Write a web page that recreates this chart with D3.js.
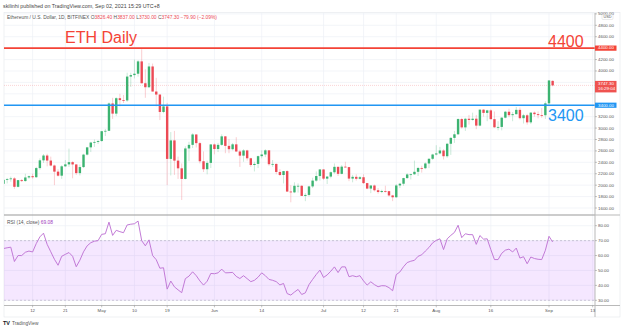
<!DOCTYPE html>
<html><head><meta charset="utf-8">
<script src="https://cdn.jsdelivr.net/npm/d3@7"></script>
<style>body{margin:0;background:#fff}svg{display:block;font-family:"Liberation Sans",Arial,sans-serif}</style>
</head><body><svg id="c" width="624" height="331"></svg>
<script>
// ---------- DATA ----------
const firstDay = "2021-04-04", lastDay = "2021-09-02";
const open = [2024,2093,2107,2118,1971,2088,2072,2135,2157,2139,2299,2435,2519,2431,2344,2237,2166,2330,2364,2403,2363,2211,2317,2535,2662,2746,2757,
2773,2945,2952,3431,3253,3523,3490,3484,3902,3928,3952,4168,3785,3715,4079,3640,3587,3282,3380,2460,2784,2430,2295,2109,2643,2706,2888,2736,2419,2279,2390,
2713,2633,2706,2855,2688,2630,2715,2590,2517,2608,2471,2353,2372,2508,2537,2610,2367,2372,2231,2178,2246,1888,1874,1989,1989,1812,1829,1978,2080,2160,
2275,2114,2150,2226,2321,2198,2324,2316,2115,2146,2111,2139,2036,1940,1994,1911,1880,1898,1895,1820,1788,1995,2025,2124,2188,2191,2234,2301,2297,2380,2462,
2537,2556,2607,2507,2725,2828,2891,3158,3012,3163,3142,3164,3043,3322,3266,3310,3156,3014,3020,3182,3286,3226,3243,3319,3173,3224,3100,3270,3244,3227,3225,
3433,3826.4];
const high = [2100,2127,2150,2140,2090,2105,2200,2170,2200,2320,2470,2545,2550,2500,2360,2280,2350,2440,2640,2420,2370,2360,2550,2670,2760,2800,2790,
2950,2985,3450,3530,3540,3600,3580,3970,3970,4200,4190,4380,4030,4140,4130,3880,3590,3550,3440,2930,2950,2500,2380,2680,2760,2910,2890,2760,2590,2430,2720,
2730,2740,2890,2860,2810,2740,2840,2620,2630,2620,2480,2410,2520,2610,2630,2610,2440,2380,2280,2250,2260,2000,2050,2030,2000,1860,1990,2130,2240,2280,
2280,2160,2240,2380,2325,2350,2410,2320,2180,2190,2160,2190,2040,2000,2010,1950,1920,1990,1900,1830,2020,2040,2130,2210,2200,2430,2320,2340,2400,2470,2550,
2700,2670,2630,2740,2840,2950,3170,3180,3180,3230,3270,3230,3330,3330,3320,3330,3290,3120,3190,3300,3340,3280,3370,3360,3250,3250,3280,3290,3290,3350,3470,
3840,3837];
const low = [1990,2030,2060,1935,1960,2055,2060,2110,2115,2130,2270,2390,2330,2330,2000,2150,2110,2320,2320,2120,2180,2170,2300,2520,2580,2670,2720,
2760,2860,2950,3160,3210,3380,3440,3460,3720,3870,3900,3780,3530,3700,3640,3380,3140,3260,2000,2170,2180,2110,1740,2100,2420,2650,2660,2380,2230,2190,2300,
2540,2580,2690,2560,2560,2610,2580,2320,2410,2430,2320,2240,2300,2470,2490,2340,2320,2190,2160,2030,1880,1700,1860,1870,1810,1720,1800,1950,2060,2080,
2090,2020,2120,2200,2160,2190,2310,2070,2050,2080,2100,2020,1930,1860,1890,1850,1860,1870,1800,1720,1780,1950,1990,2110,2100,2180,2160,2220,2280,2300,2440,
2520,2540,2450,2480,2530,2740,2880,2990,2950,3060,3130,2980,3030,3200,3120,3150,3000,2960,2960,3170,3190,3120,3240,3150,3080,3060,3070,3200,3170,3180,3160,
3390,3730];
const close = [2093,2107,2118,1971,2088,2072,2135,2157,2139,2299,2435,2519,2431,2344,2237,2166,2330,2364,2403,2363,2211,2317,2535,2662,2746,2757,2773,
2945,2952,3431,3253,3523,3490,3484,3902,3928,3952,4168,3785,3715,4079,3640,3587,3282,3380,2460,2784,2430,2295,2109,2643,2706,2888,2736,2419,2279,2390,2713,
2633,2706,2855,2688,2630,2715,2590,2517,2608,2471,2353,2372,2508,2537,2610,2367,2372,2231,2178,2246,1888,1874,1989,1989,1812,1829,1978,2080,2160,2275,
2114,2150,2226,2321,2198,2324,2316,2115,2146,2111,2139,2036,1940,1994,1911,1880,1898,1895,1820,1788,1995,2025,2124,2188,2191,2234,2301,2297,2380,2462,2537,
2556,2607,2507,2725,2828,2891,3158,3012,3163,3142,3164,3043,3322,3266,3310,3156,3014,3020,3182,3286,3226,3243,3319,3173,3224,3100,3270,3244,3227,3225,3433,
3834,3747.3];
const rsi = [64.7,65.2,65.6,56,60,60,62.2,63,62.4,68,72.5,75,67.5,62.5,57.5,53.5,59.5,60.8,62,59.5,52.5,56.9,62.5,66.5,68.6,69.6,70,
74.2,74.6,82.4,73.5,76.9,76,75.3,80.5,81,81.3,83.1,70,66.5,70.5,60,57.2,51.5,51.8,37.5,42.9,39,37,35.1,44.5,46.2,49.1,46.5,43,40.2,42.8,48,
47.8,48.4,50.9,48.4,48.5,48.7,46,44.6,46.5,44.5,42.5,43.4,45.5,48.4,46.5,44,43.4,42.5,40.3,41.3,34.5,33.5,35.5,37.3,33.9,35,40.5,44,47.3,50.2,
45.3,47,49.5,52.4,48.6,52.4,52.4,45.8,46.5,45.8,46.5,43,40.2,42.4,40.5,39.1,39.8,39.7,38.5,36.4,47.2,49,52.5,55.3,56.2,56.8,59.5,60.5,63,65.4,68.5,
70.2,71.2,64,71.2,73.5,75.5,80.3,72,74.6,74,74,67.5,73.4,71,71.2,64,57.3,57.3,61.5,63.6,64.3,62.4,65,58.3,59.2,54.5,59,58,57.5,57.3,63.5,
72.9,69.08];
const priceTicks = [1600,1800,2000,2200,2400,2600,2800,3000,3200,3400,3600,3800,4000,4200,4400,4600,4800,5000];
const rsiTicks = [30,40,50,60,70,80];
const timeTicks = [["2021-04-12","12"],["2021-04-21","21"],["2021-05-01","May"],["2021-05-10","10"],["2021-05-19","19"],["2021-06-01","Jun"],["2021-06-14","14"],["2021-07-01","Jul"],["2021-07-12","12"],["2021-07-21","21"],["2021-08-01","Aug"],["2021-08-16","16"],["2021-09-01","Sep"],["2021-09-13","13"]];
const levels = [{v:4400,label:"4400",color:"#f44336"},{v:3400,label:"3400",color:"#2196f3"}];
const lastPrice = 3747.3, lastTime = "16:29:04", rsiLast = "69.08";

// ---------- LAYOUT ----------
const L=4, R=595, PT=13, PB=215, RT=215, RB=305.5, AB=317;
const GREEN="#3cb371", RED="#ec4a55", GRID="#eef1f6";
const days = d3.utcDay.range(new Date(firstDay), d3.utcDay.offset(new Date(lastDay),1));
const x = d3.scaleUtc().domain([new Date("2021-05-01"), new Date("2021-09-01")]).range([101.7, 549]);
const y = d3.scaleLinear().domain([1600,4800]).range([208,25.3]);
const yr = d3.scaleLinear().domain([30,80]).range([300.3,225.7]);
const svg = d3.select("#c");
const fmt = d3.format(".2f");

// header
svg.append("text").attr("x",3).attr("y",8).attr("font-size",5.3).attr("fill","#444")
  .text("skilinhi published on TradingView.com, Sep 02, 2021 15:29 UTC+8");

// frame
svg.append("rect").attr("x",L).attr("y",12.5).attr("width",616).attr("height",AB-12.5).attr("fill","none").attr("stroke","#e3e6ec").attr("stroke-width",0.6);

const defs = svg.append("defs");
defs.append("clipPath").attr("id","cp").append("rect").attr("x",L).attr("y",PT).attr("width",R-L).attr("height",PB-PT);
defs.append("clipPath").attr("id","cr").append("rect").attr("x",L).attr("y",RT).attr("width",R-L).attr("height",RB-RT);

// grid
const g = svg.append("g").attr("stroke",GRID).attr("stroke-width",0.7);
timeTicks.forEach(([d])=>{const xx=x(new Date(d)); if(xx<R) g.append("line").attr("x1",xx).attr("x2",xx).attr("y1",PT).attr("y2",RB);});
priceTicks.forEach(v=>{const yy=y(v); if(yy>PT&&yy<PB) g.append("line").attr("x1",L).attr("x2",R).attr("y1",yy).attr("y2",yy);});
rsiTicks.forEach(v=>g.append("line").attr("x1",L).attr("x2",R).attr("y1",yr(v)).attr("y2",yr(v)));

// candles
const cg = svg.append("g").attr("clip-path","url(#cp)");
const cw = 2.4;
days.forEach((d,i)=>{
  const up = close[i]>=open[i], col = up?GREEN:RED, xx = x(d);
  cg.append("line").attr("x1",xx).attr("x2",xx).attr("y1",y(high[i])).attr("y2",y(low[i]))
    .attr("stroke",col).attr("stroke-opacity",0.3).attr("stroke-width",0.9);
  const y0=y(Math.max(open[i],close[i])), y1=y(Math.min(open[i],close[i]));
  cg.append("rect").attr("x",xx-cw/2).attr("y",y0).attr("width",cw).attr("height",Math.max(0.8,y1-y0)).attr("fill",col);
});

// last price line
cg.append("line").attr("x1",L).attr("x2",R).attr("y1",y(lastPrice)).attr("y2",y(lastPrice))
  .attr("stroke",RED).attr("stroke-opacity",0.3).attr("stroke-width",0.8).attr("stroke-dasharray","1,1");

// levels
levels.forEach(l=>{
  cg.append("line").attr("x1",L).attr("x2",R).attr("y1",y(l.v)).attr("y2",y(l.v)).attr("stroke",l.color).attr("stroke-width",1.6);
});
svg.append("text").attr("x",65).attr("y",42.5).attr("font-size",16).attr("fill","#f44336").text("ETH Daily");
levels.forEach(l=>{
  const yy=y(l.v);
  svg.append("text").attr("x",548).attr("y", l.v===4400? yy-1.5 : yy+16).attr("font-size",16).attr("fill",l.color).text(l.label);
});

// legend
const lg = svg.append("text").attr("x",7).attr("y",18.6).attr("font-size",4.9).attr("fill","#555");
lg.append("tspan").text("Ethereum / U.S. Dollar, 1D, BITFINEX ");
[["O",open[open.length-1]],["H",high[high.length-1]],["L",low[low.length-1]],["C",lastPrice]].forEach(([k,v])=>{
  lg.append("tspan").attr("fill","#555").text(" "+k);
  lg.append("tspan").attr("fill",RED).text(fmt(v));
});
lg.append("tspan").attr("fill",RED).text("  −79.90 (−2.09%)");

// RSI pane
const rg = svg.append("g").attr("clip-path","url(#cr)");
rg.append("rect").attr("x",L).attr("width",R-L).attr("y",yr(70)).attr("height",yr(30)-yr(70)).attr("fill","#9915ff").attr("fill-opacity",0.1);
[70,30].forEach(v=>rg.append("line").attr("x1",L).attr("x2",R).attr("y1",yr(v)).attr("y2",yr(v)).attr("stroke","#b0a8c0").attr("stroke-width",0.6).attr("stroke-dasharray","2,2"));
rg.append("path").datum(rsi).attr("fill","none").attr("stroke","#bf74d4").attr("stroke-width",0.95)
  .attr("d",d3.line().x((v,i)=>x(days[i])).y(v=>yr(v)));
const rl = svg.append("text").attr("x",7).attr("y",223.5).attr("font-size",4.9).attr("fill","#555");
rl.append("tspan").text("RSI (14, close) ");
rl.append("tspan").attr("fill","#a23bbd").text(" "+rsiLast);

// separators & axes lines
svg.append("line").attr("x1",L).attr("x2",R).attr("y1",PB).attr("y2",PB).attr("stroke","#9a9a9a").attr("stroke-width",1.2);
svg.append("line").attr("x1",L).attr("x2",R+25).attr("y1",RB).attr("y2",RB).attr("stroke","#b9b9b9").attr("stroke-width",1);
svg.append("line").attr("x1",R).attr("x2",R).attr("y1",PT).attr("y2",AB).attr("stroke","#b9b9b9").attr("stroke-width",1);
svg.append("line").attr("x1",R).attr("x2",620).attr("y1",PB).attr("y2",PB).attr("stroke","#b9b9b9").attr("stroke-width",1);

// price axis labels
const boxes = [{v:4400,fill:"#f44336",lines:["4400.00"]},{v:3400,fill:"#2196f3",lines:["3400.00"]},{v:lastPrice,fill:"#ef5350",lines:[fmt(lastPrice),lastTime]}];
const ax = svg.append("g").attr("font-size",4.4).attr("fill","#555");
priceTicks.forEach(v=>{
  const yy=y(v);
  if(boxes.some(b=>Math.abs(y(b.v)-yy)<(b.lines.length>1?9:4))) return;
  ax.append("line").attr("x1",R).attr("x2",R+2).attr("y1",yy).attr("y2",yy).attr("stroke","#888").attr("stroke-width",0.5);
  ax.append("text").attr("x",598).attr("y",yy+1.5).text(fmt(v));
});
// USD box
svg.append("rect").attr("x",602).attr("y",14.5).attr("width",11).attr("height",5).attr("rx",1).attr("fill","#fff").attr("stroke","#ccc").attr("stroke-width",0.4);
svg.append("text").attr("x",607.5).attr("y",18.3).attr("text-anchor","middle").attr("font-size",3.8).attr("fill","#555").text("USD");
boxes.forEach(b=>{
  const yy=y(b.v), h=b.lines.length>1?11.5:5.2, top=b.lines.length>1?yy-4.5:yy-h/2;
  svg.append("rect").attr("x",R).attr("y",top).attr("width",21.5).attr("height",h).attr("fill",b.fill);
  b.lines.forEach((t,k)=>svg.append("text").attr("x",598).attr("y",top+3.9+k*5.5).attr("font-size",4.4).attr("fill","#fff").text(t));
});
// rsi axis
rsiTicks.forEach(v=>{
  const yy=yr(v);
  ax.append("line").attr("x1",R).attr("x2",R+2).attr("y1",yy).attr("y2",yy).attr("stroke","#888").attr("stroke-width",0.5);
  ax.append("text").attr("x",598).attr("y",yy+1.5).text(fmt(v));
});
// time axis
timeTicks.forEach(([d,l])=>{
  const xx=x(new Date(d));
  ax.append("line").attr("x1",xx).attr("x2",xx).attr("y1",RB).attr("y2",RB+1.8).attr("stroke","#888").attr("stroke-width",0.5);
  ax.append("text").attr("x",xx).attr("y",311.5).attr("text-anchor","middle").text(l);
});
// logo
svg.append("text").attr("x",3).attr("y",324.5).attr("font-size",5.5).attr("font-weight","bold").attr("fill","#131722").text("TV");
svg.append("text").attr("x",12).attr("y",324.5).attr("font-size",4.8).attr("fill","#555").text("TradingView");
</script></body></html>
